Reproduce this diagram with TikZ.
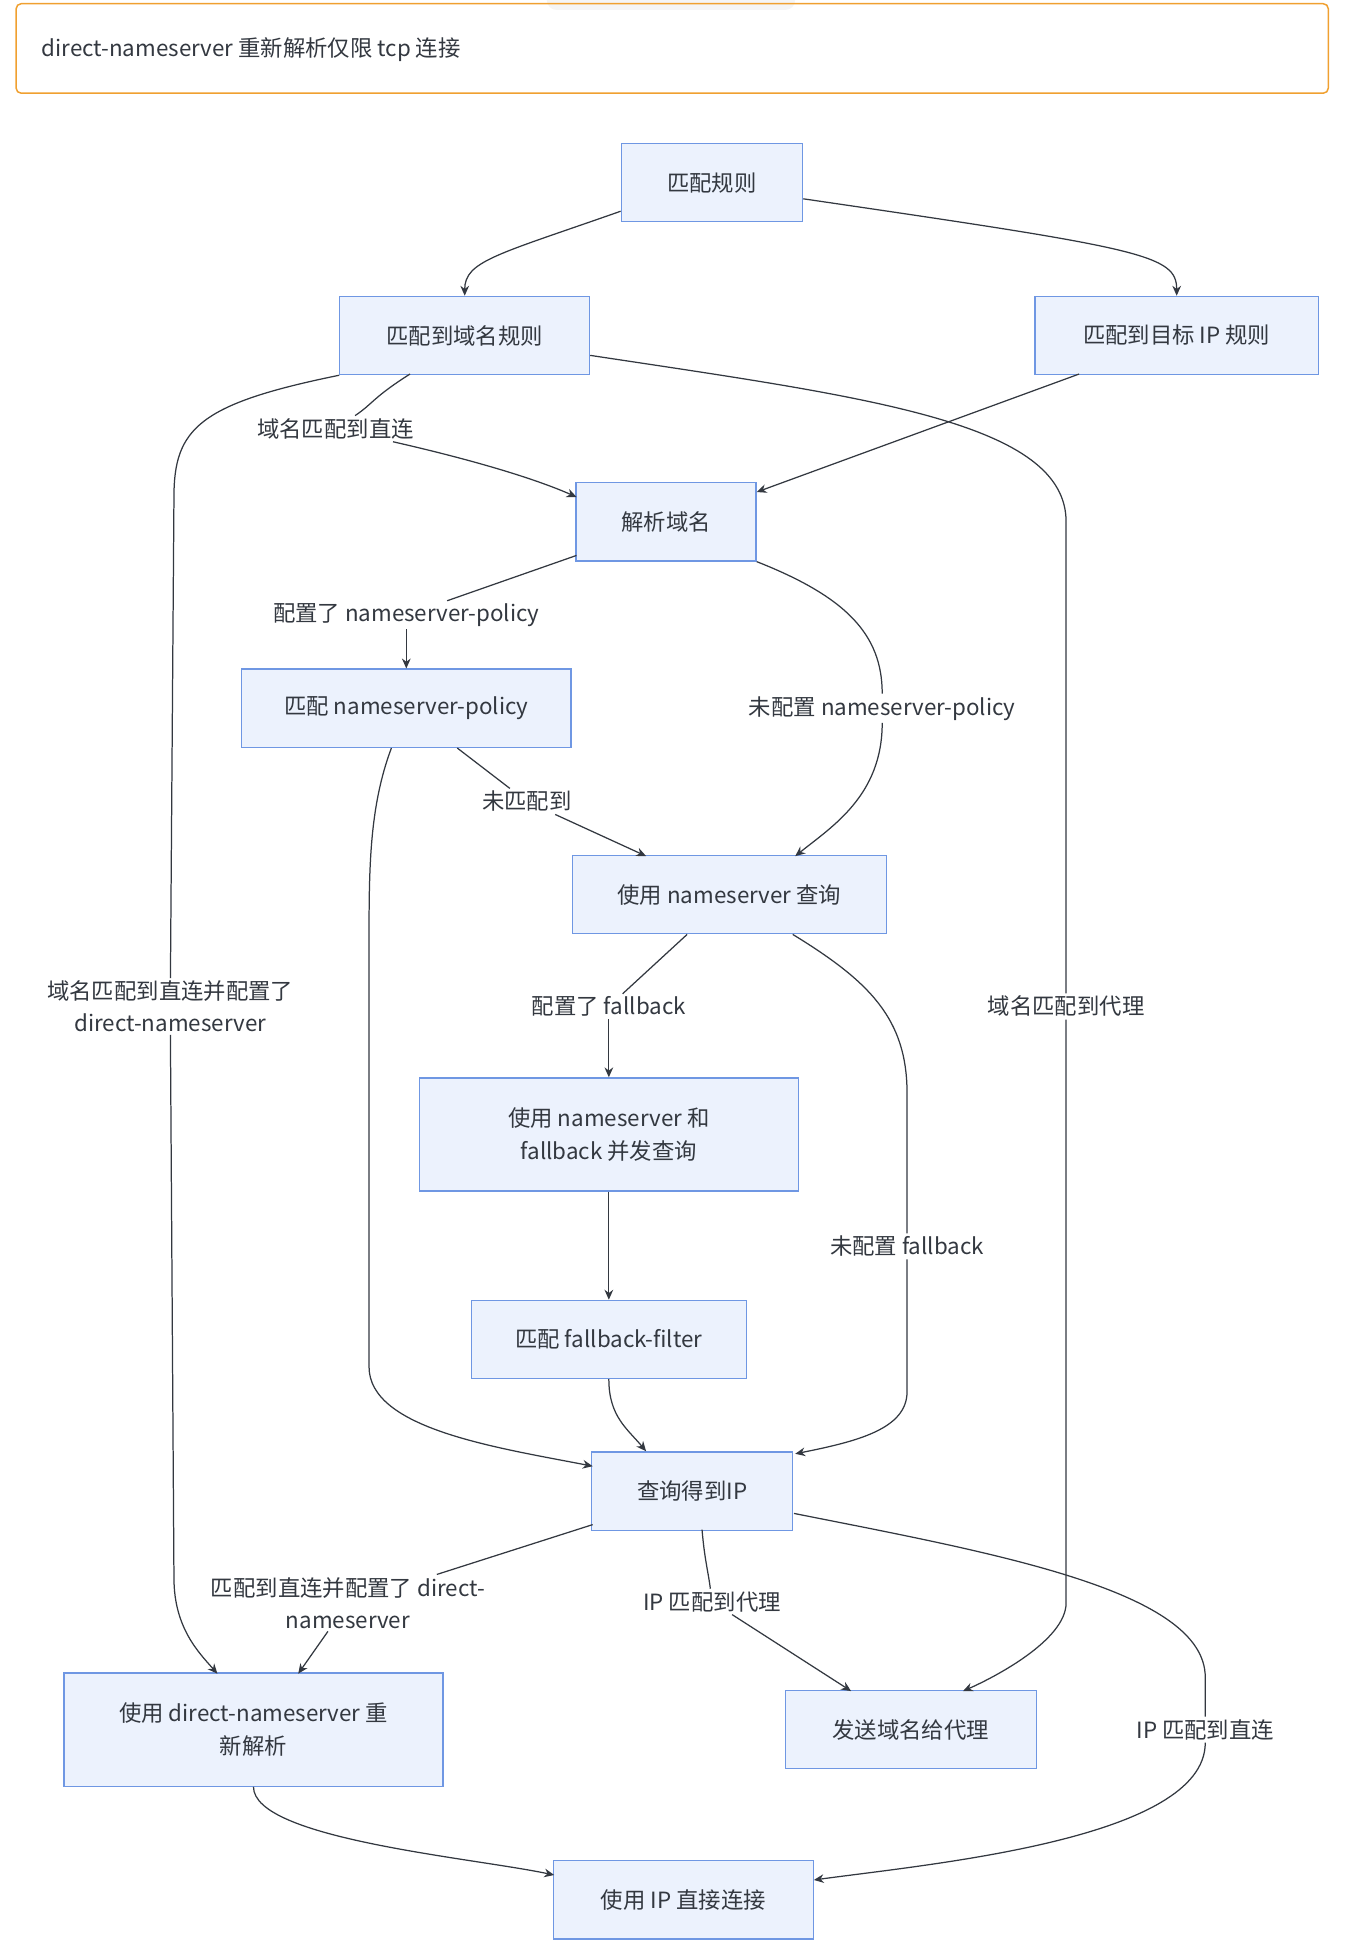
\documentclass[tikz,border=0pt]{standalone}
\usepackage{fontspec}
\setmainfont{Noto Sans CJK SC}
\usetikzlibrary{arrows.meta}
\definecolor{boxfill}{HTML}{ECF2FD}
\definecolor{boxline}{HTML}{6F97E3}
\definecolor{edgecol}{HTML}{333840}
\definecolor{notecol}{HTML}{F0A030}
\tikzset{
  box/.style={draw=boxline,fill=boxfill,line width=1pt,minimum height=63pt,align=center,text=edgecol},
  lbl/.style={fill=white,inner sep=2pt,align=center,text=edgecol},
  flow/.style={draw=edgecol,line width=1pt,-{Stealth[length=8pt,width=7pt]}},
  seg/.style={draw=edgecol,line width=1pt},
}
\begin{document}
\begin{tikzpicture}[x=1pt,y=-1pt,font=\fontsize{18}{26}\selectfont]
  \useasboundingbox (0,0) rectangle (1100,1575);

% note at top
  \fill[gray!8,rounded corners=8pt] (440,-10) rectangle (640,8);
  \draw[notecol,line width=1.2pt,rounded corners=4pt] (13,3) rectangle (1069,75);
  \node[anchor=west,text=edgecol] (note) at (30,40) {direct-nameserver 重新解析仅限 tcp 连接};

% boxes
  \node[box,minimum width=146pt] (rule) at (573,147) {匹配规则};
  \node[box,minimum width=201pt] (dom) at (374,270) {匹配到域名规则};
  \node[box,minimum width=228pt] (ip) at (947,270) {匹配到目标 IP 规则};
  \node[box,minimum width=145pt] (res) at (536,420) {解析域名};
  \node[box,minimum width=265pt] (pol) at (327,570) {匹配 nameserver-policy};
  \node[box,minimum width=253pt] (ns) at (587,720) {使用 nameserver 查询};
  \node[box,minimum width=305pt,minimum height=91pt] (fb) at (490,913) {使用 nameserver 和\\fallback 并发查询};
  \node[box,minimum width=221pt] (ff) at (490,1078) {匹配 fallback-filter};
  \node[box,minimum width=162pt] (got) at (557,1200) {查询得到IP};
  \node[box,minimum width=305pt,minimum height=91pt] (dns) at (204,1392) {使用 direct-nameserver 重\\新解析};
  \node[box,minimum width=202pt] (proxy) at (733,1392) {发送域名给代理};
  \node[box,minimum width=209pt] (direct) at (550,1529) {使用 IP 直接连接};

% edge labels
  \node[lbl] (l1) at (270,345) {域名匹配到直连};
  \node[lbl] (l2) at (137,810) {域名匹配到直连并配置了\\direct-nameserver};
  \node[lbl] (l3) at (858,810) {域名匹配到代理};
  \node[lbl] (l4) at (327,495) {配置了 nameserver-policy};
  \node[lbl] (l5) at (710,570) {未配置 nameserver-policy};
  \node[lbl] (l6) at (424,645) {未匹配到};
  \node[lbl] (l7) at (490,810) {配置了 fallback};
  \node[lbl] (l8) at (730,1003) {未配置 fallback};
  \node[lbl] (l9) at (280,1290) {匹配到直连并配置了 direct-\\nameserver};
  \node[lbl] (l10) at (573,1289) {IP 匹配到代理};
  \node[lbl] (l11) at (970,1392) {IP 匹配到直连};

% connectors
  \draw[flow] (rule.west |- 0,170) .. controls (400,205) and (374,210) .. (dom.north);
  \draw[flow] (rule.east |- 0,160) .. controls (920,200) and (947,205) .. (ip.north);
  \draw[flow] (ip.south west |- 0,301) ++(36,0) -- (res.north east |- 0,396);
  \draw[seg] (330,301) .. controls (300,320) and (300,325) .. (l1);
  \draw[flow] (l1) .. controls (380,370) and (430,385) .. (464,400);
  \draw[seg] (dom.south west) .. controls (160,325) and (140,345) .. (140,400) -- (l2);
  \draw[flow] (l2) -- (140,1270) .. controls (140,1310) and (160,1330) .. (175,1347);
  \draw[seg] (dom.east |- 0,286) .. controls (700,320) and (858,340) .. (858,420) -- (l3);
  \draw[flow] (l3) -- (858,1290) .. controls (858,1320) and (800,1350) .. (775,1361);
  \draw[seg] (464,447) -- (l4);
  \draw[flow] (l4) .. controls (327,515) .. (pol.north);
  \draw[seg] (609,452) .. controls (680,480) and (710,510) .. (l5);
  \draw[flow] (l5) .. controls (710,640) and (670,665) .. (640,689);
  \draw[seg] (368,602) -- (l6);
  \draw[flow] (l6) -- (520,689);
  \draw[flow] (315,602) .. controls (297,650) and (297,700) .. (297,760) -- (297,1100)
     .. controls (297,1150) and (400,1165) .. (477,1180);
  \draw[seg] (553,752) -- (l7);
  \draw[flow] (l7) .. controls (490,835) .. (fb.north);
  \draw[seg] (638,752) .. controls (700,790) and (730,820) .. (730,880) -- (l8);
  \draw[flow] (l8) -- (730,1120) .. controls (730,1150) and (690,1160) .. (640,1170);
  \draw[flow] (fb) -- (ff);
  \draw[flow] (ff.south) .. controls (490,1140) and (505,1150) .. (520,1168);
  \draw[seg] (477,1227) -- (l9);
  \draw[flow] (l9) -- (240,1347);
  \draw[seg] (565,1231) .. controls (567,1255) and (570,1265) .. (l10);
  \draw[flow] (l10) -- (685,1361);
  \draw[seg] (639,1218) .. controls (800,1250) and (970,1280) .. (970,1350) -- (l11);
  \draw[flow] (l11) .. controls (970,1480) and (750,1500) .. (655,1513);
  \draw[flow] (dns.south) .. controls (204,1480) and (380,1495) .. (446,1509);
\end{tikzpicture}
\end{document}
